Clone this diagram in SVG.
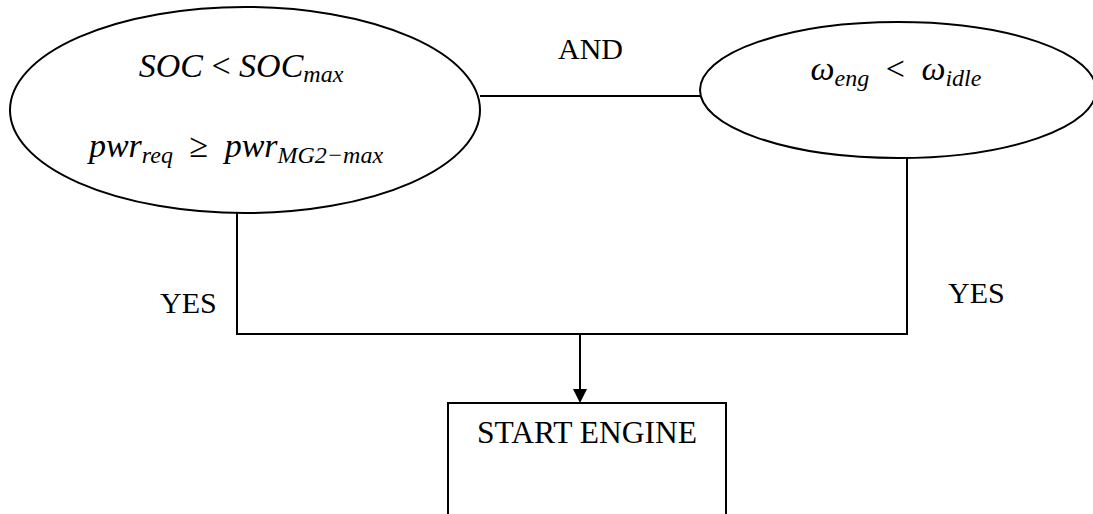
<svg xmlns="http://www.w3.org/2000/svg" width="1093" height="514" viewBox="0 0 1093 514">
<defs>
<style>
.shape{fill:#fff;stroke:#000;stroke-width:2}
.line{fill:none;stroke:#000;stroke-width:2}
.lbl{font-family:"Liberation Serif","Times New Roman",serif;font-size:30px;fill:#000}
.math{font-family:"Liberation Serif","DejaVu Serif",serif;font-style:italic;font-size:34px;fill:#000}
.wide{word-spacing:8px}
.sub{font-size:24px}
.op{font-style:normal}
</style>
</defs>
<rect width="1093" height="514" fill="#fff"/>
<g id="connectors">
<line class="line" x1="480" y1="96" x2="700" y2="96"/>
<polyline class="line" points="237,213 237,334 907,334 907,158"/>
<line class="line" x1="580" y1="334" x2="580" y2="390"/>
<path d="M573,389 L587,389 L580,403 Z" fill="#000"/>
</g>
<g id="node-soc">
<ellipse class="shape" cx="245" cy="110" rx="235" ry="103"/>
<text class="math" x="241" y="77" text-anchor="middle">SOC <tspan class="op">&lt;</tspan> SOC<tspan class="sub" dy="5">max</tspan></text>
<text class="math wide" x="236" y="157" text-anchor="middle">pwr<tspan class="sub" dy="6">req</tspan><tspan dy="-6"> </tspan><tspan class="op">≥</tspan> pwr<tspan class="sub" dy="6">MG2−max</tspan></text>
</g>
<g id="node-omega">
<ellipse class="shape" cx="898" cy="90" rx="198" ry="68"/>
<text class="math wide" x="896" y="80" text-anchor="middle">ω<tspan class="sub" dy="6">eng</tspan><tspan dy="-6"> </tspan><tspan class="op">&lt;</tspan> ω<tspan class="sub" dy="6">idle</tspan></text>
</g>
<g id="node-start">
<rect class="shape" x="448" y="403" width="278" height="130"/>
<text class="lbl" x="587" y="443" text-anchor="middle" style="font-size:31.5px">START ENGINE</text>
</g>
<g id="labels">
<text class="lbl" x="558" y="59">AND</text>
<text class="lbl" x="160" y="313">YES</text>
<text class="lbl" x="948" y="303">YES</text>
</g>
</svg>
